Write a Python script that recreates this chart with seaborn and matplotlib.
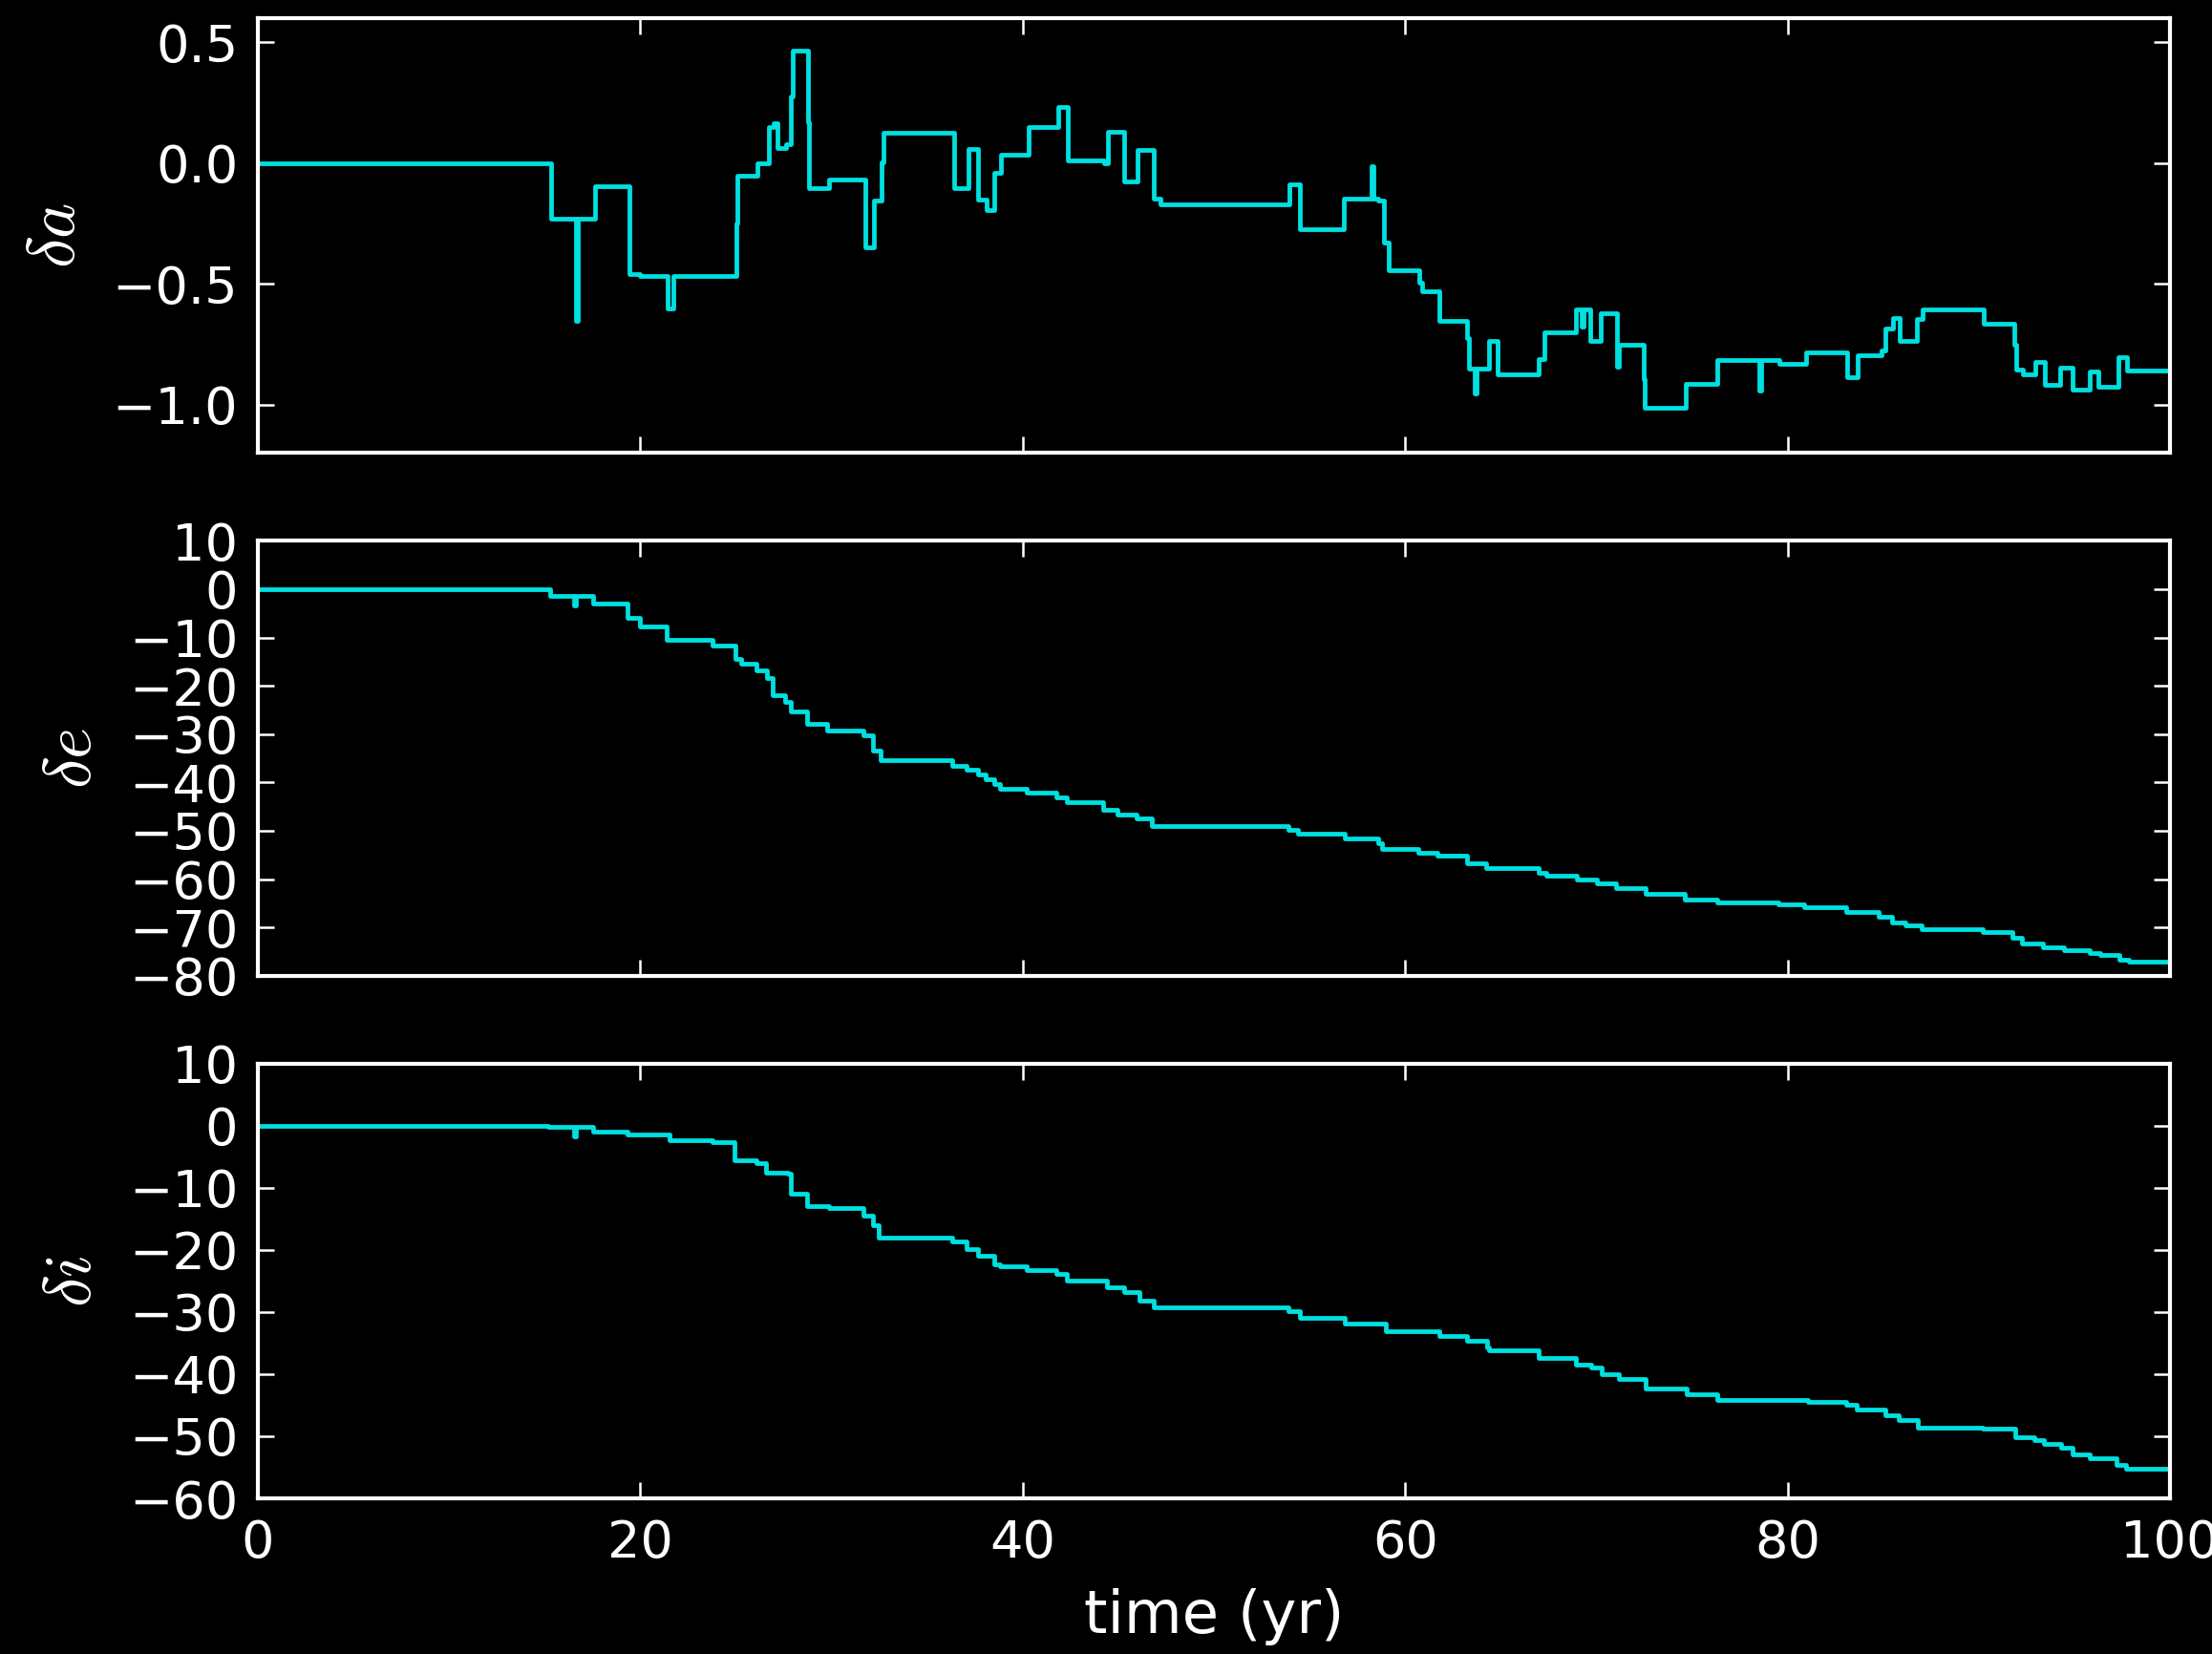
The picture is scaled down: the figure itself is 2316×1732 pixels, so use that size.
import matplotlib
matplotlib.use("Agg")
import matplotlib.pyplot as plt
from matplotlib.ticker import MultipleLocator
import seaborn as sns

# Step-change times (yr) and the value held from each time onward
time_a = [0.0, 15.31, 16.62, 16.72, 17.63, 19.42, 20.0, 21.45, 21.75, 25.02, 25.08,
          26.10, 26.70, 26.95, 27.15, 27.60, 27.86, 27.95, 28.79, 28.84, 29.87,
          31.75, 32.23, 32.60, 32.72, 36.39, 37.17, 37.68, 38.13, 38.50, 38.84,
          40.29, 41.85, 42.36, 44.24, 44.46, 45.30, 46.02, 46.87, 47.20, 53.96,
          54.49, 56.81, 58.24, 58.34, 58.57, 58.90, 59.13, 60.74, 60.90, 61.80,
          63.25, 63.35, 63.65, 63.75, 64.37, 64.85, 67.00, 67.30, 68.95, 69.22,
          69.32, 69.68, 70.24, 71.10, 71.20, 72.49, 72.55, 74.68, 76.34, 78.50,
          78.60, 79.56, 80.98, 83.10, 83.66, 84.93, 85.12, 85.49, 85.85, 86.76,
          87.07, 90.24, 91.88, 91.95, 92.30, 92.98, 93.46, 94.24, 94.93, 95.78,
          96.27, 97.32, 97.73, 100.0]
delta_a = [0.0, -0.229, -0.652, -0.229, -0.096, -0.459, -0.468, -0.603, -0.468, -0.251, -0.051,
           0.0, 0.15, 0.167, 0.062, 0.08, 0.275, 0.465, 0.17, -0.104, -0.067,
           -0.35, -0.156, 0.005, 0.124, -0.104, 0.058, -0.152, -0.196, -0.041, 0.034,
           0.15, 0.231, 0.012, 0.0, 0.13, -0.074, 0.054, -0.146, -0.172, -0.087,
           -0.273, -0.148, -0.014, -0.148, -0.156, -0.33, -0.445, -0.494, -0.53, -0.652,
           -0.724, -0.849, -0.954, -0.849, -0.735, -0.875, -0.81, -0.70, -0.606, -0.678,
           -0.606, -0.735, -0.622, -0.842, -0.75, -0.895, -1.013, -0.915, -0.816, -0.941,
           -0.816, -0.829, -0.783, -0.888, -0.796, -0.776, -0.685, -0.643, -0.737, -0.645,
           -0.606, -0.665, -0.75, -0.853, -0.875, -0.823, -0.917, -0.845, -0.937, -0.862,
           -0.925, -0.803, -0.858, -0.858]

time_e = [0.0, 15.30, 16.55, 16.65, 17.54, 19.34, 20.00, 21.40, 23.78, 24.96, 25.25,
          26.08, 26.60, 26.90, 27.55, 27.88, 28.70, 29.75, 31.66, 32.15, 32.58,
          36.32, 37.08, 37.64, 38.06, 38.49, 38.82, 40.20, 41.77, 42.33, 44.20,
          44.96, 45.94, 46.77, 53.89, 54.40, 56.84, 58.57, 58.80, 60.68, 61.70,
          63.23, 64.24, 66.96, 67.40, 69.00, 70.02, 71.04, 72.56, 74.60, 76.30,
          79.52, 80.88, 83.09, 84.79, 85.47, 86.15, 87.00, 90.22, 91.75, 92.26,
          93.38, 94.47, 95.82, 96.33, 97.35, 97.86, 100.0]
delta_e = [0.0, -1.44, -3.4, -1.44, -2.9, -5.9, -7.7, -10.4, -11.7, -14.4, -15.5,
           -16.9, -18.4, -22.0, -23.4, -25.4, -27.9, -29.2, -30.2, -33.4, -35.4,
           -36.6, -37.4, -38.4, -39.3, -40.3, -41.3, -42.1, -43.1, -44.1, -45.6,
           -46.6, -47.5, -49.0, -49.8, -50.6, -51.5, -52.6, -53.8, -54.6, -55.2,
           -56.7, -57.8, -58.7, -59.3, -60.0, -60.9, -61.8, -63.1, -64.3, -64.8,
           -65.2, -65.9, -66.8, -67.9, -68.9, -69.6, -70.4, -71.0, -72.1, -73.3,
           -74.1, -74.8, -75.4, -75.7, -76.6, -77.0, -77.0]

time_i = [0.0, 15.20, 16.55, 16.65, 17.54, 19.34, 21.54, 23.78, 24.93, 26.08, 26.57,
          27.72, 27.88, 28.70, 29.85, 31.66, 32.15, 32.48, 36.32, 37.08, 37.64,
          38.49, 38.82, 40.20, 41.77, 42.33, 44.40, 45.29, 46.11, 46.83, 53.89,
          54.47, 56.84, 58.98, 61.80, 63.23, 64.30, 64.40, 66.96, 68.93, 69.75,
          70.29, 71.20, 72.56, 74.70, 76.30, 81.05, 83.09, 83.60, 85.10, 85.80,
          86.80, 90.20, 91.90, 92.90, 93.40, 94.30, 94.90, 95.80, 97.20, 97.70,
          100.0]
delta_i = [0.0, -0.26, -1.8, -0.26, -1.0, -1.4, -2.4, -2.6, -5.6, -6.0, -7.5,
           -7.8, -10.9, -13.0, -13.3, -14.5, -16.0, -18.0, -18.7, -19.9, -20.9,
           -22.3, -22.7, -23.3, -23.9, -25.0, -26.0, -26.8, -28.1, -29.3, -29.9,
           -30.9, -31.8, -33.1, -33.8, -34.6, -35.7, -36.2, -37.4, -38.5, -39.0,
           -40.0, -40.8, -42.3, -43.3, -44.2, -44.5, -45.0, -45.7, -46.6, -47.4,
           -48.6, -48.8, -50.2, -50.6, -51.2, -51.9, -52.9, -53.5, -54.6, -55.2,
           -55.2]

panel_labels = [r"$\delta a$", r"$\delta e$", r"$\delta i$"]
x_label = "time (yr)"

plt.style.use("dark_background")
plt.rcParams.update({
    "font.family": ["DejaVu Sans"],
    "mathtext.fontset": "cm",
    "axes.linewidth": 1.0,
    "axes.edgecolor": "white",
    "xtick.direction": "in",
    "ytick.direction": "in",
    "xtick.top": True,
    "ytick.right": True,
    "xtick.major.size": 4,
    "ytick.major.size": 4,
    "xtick.major.width": 0.6,
    "ytick.major.width": 0.6,
    "xtick.major.pad": 5,
    "ytick.major.pad": 5,
    "xtick.labelsize": 13,
    "ytick.labelsize": 13,
})

LINE = "#00e0e0"
fig, axes = plt.subplots(3, 1, sharex=True, figsize=(2316 / 300, 1732 / 300), dpi=300)
fig.subplots_adjust(left=0.1166, right=0.981, top=0.989, bottom=0.0941, hspace=0.202)

series = [(time_a, delta_a), (time_e, delta_e), (time_i, delta_i)]
limits = [(-1.2, 0.6), (-80, 10), (-60, 10)]
steps = [0.5, 10, 10]

for ax, (t, v), lab, lim, st in zip(axes, series, panel_labels, limits, steps):
    sns.lineplot(x=t, y=v, ax=ax, color=LINE, linewidth=1.15,
                 drawstyle="steps-post", estimator=None, sort=False)
    ax.set_facecolor("black")
    ax.set_xlim(0, 100)
    ax.set_ylim(*lim)
    ax.yaxis.set_major_locator(MultipleLocator(st))
    ax.xaxis.set_major_locator(MultipleLocator(20))
    ax.set_ylabel(lab, fontsize=17, labelpad=6)
    ax.grid(False)

axes[-1].set_xlabel(x_label, fontsize=15, labelpad=5)

fig.savefig("out.png", dpi=300, facecolor="black")
